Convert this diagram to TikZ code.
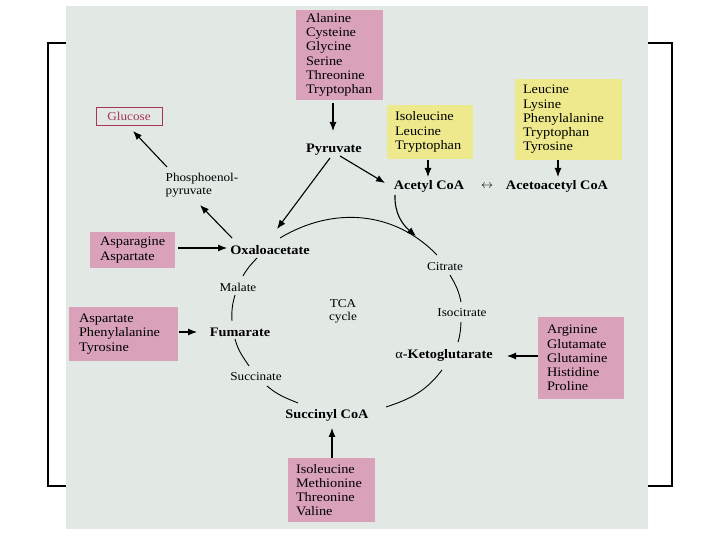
\documentclass[tikz,border=0pt]{standalone}
\usepackage{fontspec}
\setmainfont[FakeStretch=1.1]{Liberation Serif}
\usetikzlibrary{arrows.meta,calc}
\definecolor{bgc}{RGB}{226,233,229}
\definecolor{pinkc}{RGB}{217,161,186}
\definecolor{yelc}{RGB}{237,233,140}
\definecolor{gluc}{RGB}{165,55,85}
\hyphenpenalty=10000 \exhyphenpenalty=10000
\tikzset{
  box/.style={rectangle, inner ysep=0pt, align=left, font=\fontsize{13}{14.2}\selectfont},
  pinkbox/.style={box, fill=pinkc},
  yelbox/.style={box, fill=yelc},
  lbl/.style={font=\fontsize{13}{14}\selectfont\bfseries, inner sep=0pt},
  sl/.style={font=\fontsize{12}{13.6}\selectfont, inner sep=0pt},
  arr/.style={-{Latex[length=9pt,width=7pt]}, line width=1.1pt},
  cyc/.style={line width=0.9pt}
}
\begin{document}
\begin{tikzpicture}[x=1pt,y=1pt]
\useasboundingbox (0,0) rectangle (720,540);
\fill[white] (0,0) rectangle (720,540);
\draw[line width=1.2pt] (48,54) rectangle (672,497);
\fill[bgc] (66,11) rectangle (648,534);

% boxes
\node[pinkbox, minimum width=87pt, minimum height=90pt, text width=67pt, inner xsep=10pt] (top) at (339.5,485)
  {Alanine\\Cysteine\\Glycine\\Serine\\Threonine\\Tryptophan};
\node[yelbox, minimum width=86pt, minimum height=54pt, text width=70pt, inner xsep=8pt] (yel1) at (430,408)
  {Isoleucine\\Leucine\\Tryptophan};
\node[yelbox, minimum width=107pt, minimum height=81pt, text width=91pt, inner xsep=8pt] (yel2) at (568.5,420.5)
  {Leucine\\Lysine\\Phenylalanine\\Tryptophan\\Tyrosine};
\node[pinkbox, minimum width=85pt, minimum height=36pt, text width=65pt, inner xsep=10pt] (asn) at (132.5,290)
  {Asparagine\\Aspartate};
\node[pinkbox, minimum width=109pt, minimum height=54pt, text width=89pt, inner xsep=10pt] (asp) at (123.5,206)
  {Aspartate\\Phenylalanine\\Tyrosine};
\node[pinkbox, minimum width=87pt, minimum height=64pt, text width=71pt, inner xsep=8pt] (bot) at (331.5,50)
  {Isoleucine\\Methionine\\Threonine\\Valine};
\node[pinkbox, minimum width=86pt, minimum height=82pt, text width=68pt, inner xsep=9pt] (rbox) at (581,182)
  {Arginine\\Glutamate\\Glutamine\\Histidine\\Proline};
\node[draw=gluc, text=gluc, line width=0.8pt, minimum width=66pt, minimum height=18pt, inner sep=0pt,
  font=\fontsize{12}{13}\selectfont] (glu) at (129,424) {Glucose};

% labels
\node[lbl] (pyr) at (334,390) {Pyruvate};
\node[lbl] (acet) at (429,354) {Acetyl CoA};
\node[inner sep=0pt, font=\fontsize{13}{14}\selectfont] (lr) at (487,354) {$\leftrightarrow$};
\node[lbl] (acac) at (557,354) {Acetoacetyl CoA};
\node[sl, align=left] (pep) at (202,355) {Phosphoenol-\\pyruvate};
\node[lbl] (oxa) at (270,290) {Oxaloacetate};
\node[sl] (cit) at (445,273) {Citrate};
\node[sl] (iso) at (462,227) {Isocitrate};
\node[lbl] (akg) at (444,185) {\textmd{α}-Ketoglutarate};
\node[lbl] (sca) at (327,125) {Succinyl CoA};
\node[sl] (suc) at (256,163) {Succinate};
\node[lbl] (fum) at (240,208) {Fumarate};
\node[sl] (mal) at (238,253) {Malate};
\node[sl, align=center] (tca) at (343,228.5) {TCA\\cycle};

% cycle
\draw[cyc] ($(oxa)+(10,12)$) to[out=31,in=134] ($(cit)+(-8,12)$);
\draw[cyc] ($(cit)+(5,-8)$) to[out=-60,in=101] ($(iso)+(-1,11)$);
\draw[cyc] ($(iso)+(-1,-9)$) to[out=-93,in=73.5] ($(akg)+(14,13)$);
\draw[cyc] ($(akg)+(-2,-15)$) to[out=-127,in=18] ($(sca)+(59,8)$);
\draw[cyc] ($(sca)+(-29,12)$) to[out=158,in=-40] ($(suc)+(11,-9)$);
\draw[cyc] ($(suc)+(-7,11)$) to[out=124,in=-75] ($(fum)+(-5,-7)$);
\draw[cyc] ($(fum)+(-8,11)$) to[out=93,in=-106] ($(mal)+(-3,-8)$);
\draw[cyc] ($(mal)+(5,11)$) to[out=61,in=-133] ($(oxa)+(-13,-8)$);

% arrows
\draw[arr] ($(top.south)+(-6.5,-3)$) -- ($(pyr)+(-1,19)$);
\draw[arr] ($(pyr)+(-4,-8)$) -- ($(oxa)+(7,21)$);
\draw[arr] ($(pyr)+(6,-6)$) -- ($(acet)+(-44,3)$);
\draw[arr] ($(yel1.south)+(-2,-1)$) -- ($(acet)+(-1,9)$);
\draw[arr] ($(yel2.south)+(-10.5,0)$) -- ($(acac)+(1,9)$);
\draw[arr] ($(acet)+(-34,-9)$) to[out=-92,in=140] ($(cit)+(-29,31)$);
\draw[arr] ($(asn.east)+(3,2)$) -- ($(oxa)+(-43,2)$);
\draw[arr] ($(oxa)+(-38,12)$) -- ($(pep)+(-2,-20)$);
\draw[arr] ($(pep)+(-35,18)$) -- ($(glu)+(4,-15)$);
\draw[arr] ($(asp.east)+(1,2)$) -- ($(fum)+(-43,0)$);
\draw[arr] ($(rbox.west)+(0,2)$) -- ($(akg)+(63,-1)$);
\draw[arr] ($(bot.north)+(0.5,0)$) -- ($(sca)+(5,-13)$);
\end{tikzpicture}
\end{document}
